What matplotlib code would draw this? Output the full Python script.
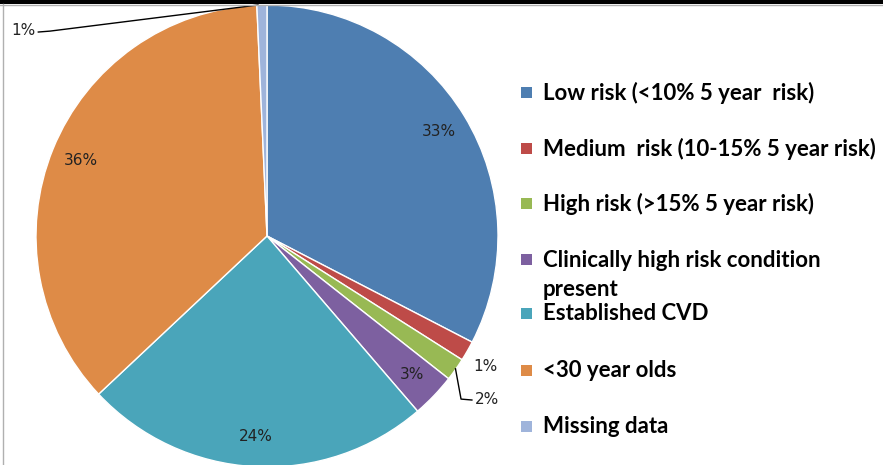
import matplotlib

matplotlib.use("Agg")
import matplotlib.pyplot as plt
from matplotlib.lines import Line2D
from matplotlib.patches import Rectangle

# slice shares (%), clockwise from 12 o'clock
categories = [
    "Low risk (<10% 5 year  risk)",
    "Medium  risk (10-15% 5 year risk)",
    "High risk (>15% 5 year risk)",
    "Clinically high risk condition\npresent",
    "Established CVD",
    "<30 year olds",
    "Missing data",
]
shares = [32.6, 1.4, 1.6, 3.1, 24.3, 36.3, 0.7]
colors = ["#4E7EB1", "#BE4B48", "#98B954", "#7D60A0", "#4AA5BA", "#DE8B47", "#9FB4DB"]

W, H = 883, 465
fig = plt.figure(figsize=(W / 100, H / 100), dpi=100)

# pie centre (267, 236) px from top-left, radius 231 px
cx, cy, r = 267, H - 236, 231
ax = fig.add_axes([(cx - r) / W, (cy - r) / H, 2 * r / W, 2 * r / H])

wedges, _, pct = ax.pie(
    shares, colors=colors, startangle=90, counterclock=False, radius=1,
    autopct=lambda p: f"{p:.0f}%", pctdistance=0.87,
    wedgeprops=dict(edgecolor="white", linewidth=1),
    textprops=dict(fontsize=11, color="#222222", family="DejaVu Sans"),
)
ax.set_xlim(-1, 1)
ax.set_ylim(-1, 1)
ax.axis("off")
for w in wedges:
    w.set_clip_on(False)
for t in pct:
    t.set_clip_on(False)

# small slices: labels outside
pct[1].set_position((0.944, -0.563))
pct[2].set_position((0.952, -0.706))
pct[6].set_position((-1.0, 0.89))
pct[6].set_ha("right")
ax.plot([0.816, 0.840, 0.887], [-0.575, -0.706, -0.710], color="black", lw=1, clip_on=False)
ax.plot([-0.039, -0.939, -0.990], [1.0, 0.887, 0.883], color="black", lw=1, clip_on=False)

# legend drawn by hand to follow the original spacing
leg_y = [92.7, 148.6, 204, 275, 313, 370, 426]
box_y = [92.7, 148.6, 204, 259, 313, 370, 426]
for lab, col, ty, by in zip(categories, colors, leg_y, box_y):
    fig.add_artist(Rectangle((521 / W, (H - by - 5.5) / H), 11 / W, 11 / H,
                             facecolor=col, edgecolor="none", transform=fig.transFigure))
    fig.text(543 / W, (H - ty) / H, lab, fontsize=16, fontweight="bold",
             family=["Lato", "DejaVu Sans"], va="center", ha="left",
             color="black", linespacing=1.45)

# frame remnants of the cropped screenshot
fig.add_artist(Rectangle((0, (H - 4) / H), 1, 4 / H, facecolor="black",
                         edgecolor="none", transform=fig.transFigure))
fig.add_artist(Line2D([0, 1], [(H - 5.5) / H] * 2, color="#b0b0b0", lw=1,
                      transform=fig.transFigure))
fig.add_artist(Line2D([3.5 / W] * 2, [0, (H - 4) / H], color="#b0b0b0", lw=1,
                      transform=fig.transFigure))

fig.savefig("out.png", dpi=100)
